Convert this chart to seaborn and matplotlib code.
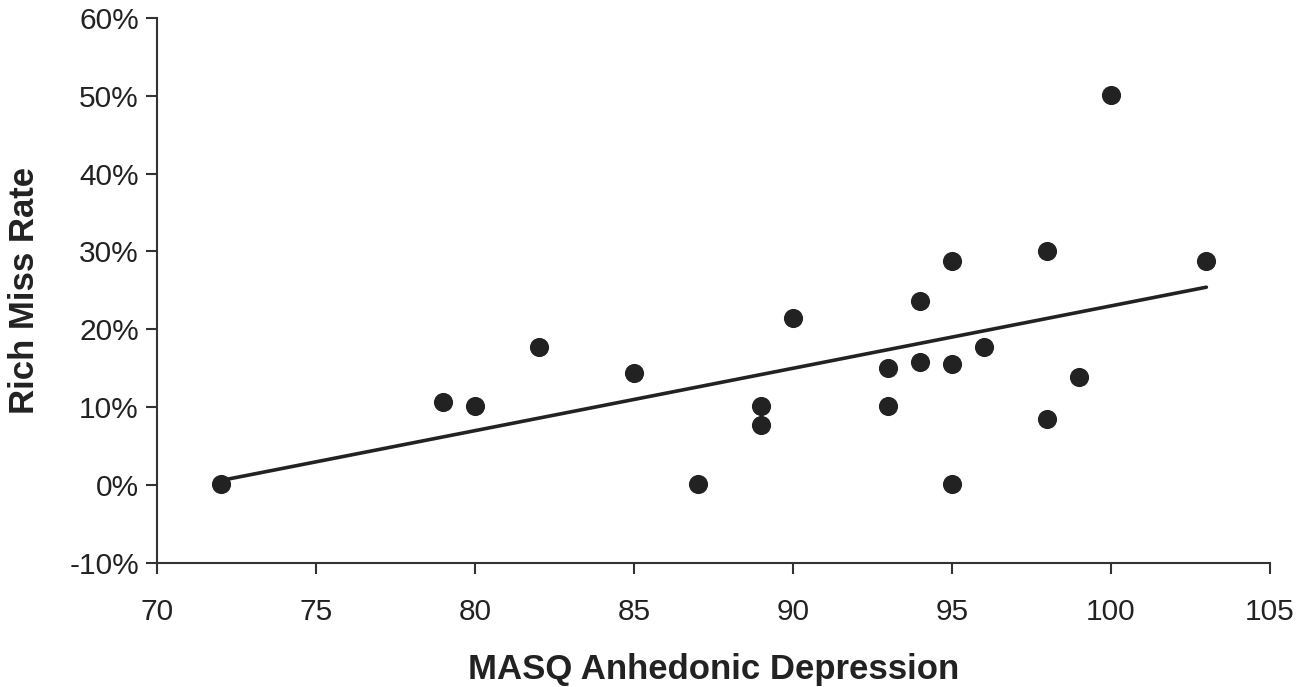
import matplotlib
matplotlib.use("Agg")
import matplotlib.pyplot as plt
import seaborn as sns
import pandas as pd
from matplotlib.ticker import FuncFormatter

# MASQ anhedonic depression scores and rich miss rate (%)
masq = [72, 79, 80, 82, 85, 87, 89, 89, 90, 93, 93, 94, 94, 95, 95, 95, 96, 98, 98, 99, 100, 103]
miss_rate = [0.1, 10.7, 10.2, 17.7, 14.4, 0.1, 10.2, 7.7, 21.5, 15.0, 10.2, 23.6, 15.8, 28.8, 15.6, 0.1,
             17.8, 30.1, 8.5, 13.9, 50.1, 28.8]

X_TICKS = [70, 75, 80, 85, 90, 95, 100, 105]
Y_TICKS = [-10, 0, 10, 20, 30, 40, 50, 60]

INK = "#222222"


def plot():
    df = pd.DataFrame({"masq": masq, "miss": miss_rate})

    sns.set_style("white")
    plt.rcParams["font.family"] = ["Liberation Sans", "DejaVu Sans"]

    fig = plt.figure(figsize=(13.16, 6.87), dpi=100)
    ax = fig.add_axes([0.1193, 0.1805, 0.8457, 0.7935])

    sns.regplot(data=df, x="masq", y="miss", ax=ax, ci=None, truncate=True,
                scatter_kws={"s": 190, "color": INK, "linewidths": 0, "alpha": 1},
                line_kws={"color": INK, "linewidth": 2.6})

    ax.set_xlim(70, 105)
    ax.set_ylim(-10, 60)
    ax.set_xticks(X_TICKS)
    ax.set_yticks(Y_TICKS)
    ax.yaxis.set_major_formatter(FuncFormatter(lambda v, _: f"{v:.0f}%"))

    sns.despine(ax=ax)
    for side in ["left", "bottom"]:
        ax.spines[side].set_color("#333333")
        ax.spines[side].set_linewidth(1.5)
    ax.tick_params(axis="both", direction="out", length=8, width=1.5, color="#333333",
                   labelsize=21.5, labelcolor=INK, bottom=True, left=True)
    ax.tick_params(axis="x", pad=17)
    ax.tick_params(axis="y", pad=5)

    ax.set_xlabel("MASQ Anhedonic Depression", fontsize=25, fontweight="bold", color=INK, labelpad=20)
    ax.set_ylabel("Rich Miss Rate", fontsize=25, fontweight="bold", color=INK, labelpad=20)

    fig.savefig("out.png", dpi=100)


plot()
